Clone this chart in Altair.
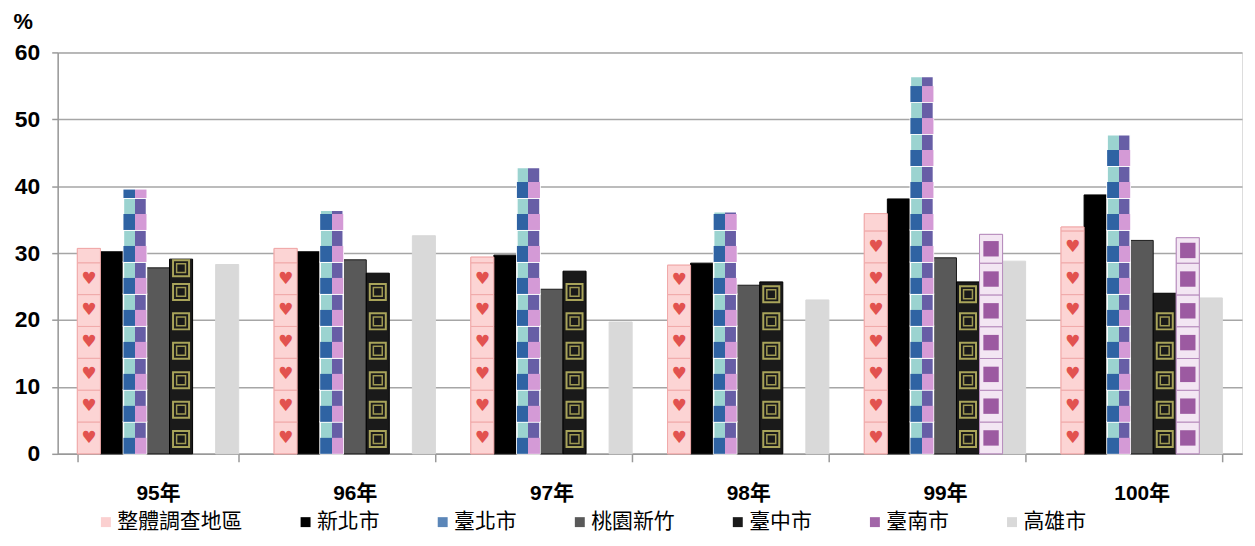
import altair as alt
import pandas as pd

years = ["95年", "96年", "97年", "98年", "99年", "100年"]
series = ["整體調查地區", "新北市", "臺北市", "桃園新竹", "臺中市", "臺南市", "高雄市"]
v_all = [30.7, 30.7, 29.4, 28.2, 35.9, 33.9]
v_ntpc = [30.2, 30.2, 29.7, 28.5, 38.1, 38.7]
v_tpe = [39.5, 36.4, 42.8, 36.2, 56.4, 47.7]
v_tyhc = [27.8, 29.0, 24.6, 25.2, 29.3, 31.9]
v_tch = [29.1, 27.0, 27.3, 25.7, 25.7, 24.0]
v_tn = [None, None, None, None, 32.8, 32.3]
v_khh = [28.3, 32.6, 19.7, 23.0, 28.8, 23.3]

fills = ["#fbd0d0", "#000000", "#5b86b8", "#595959", "#1a1a1a", "#a266a8", "#d9d9d9"]
strokes = ["#f2b0b0", "#000000", "#ffffff", "#1a1a1a", "#000000", "#c8a6cc", "#d9d9d9"]

rows = []
for s, vals in zip(series, [v_all, v_ntpc, v_tpe, v_tyhc, v_tch, v_tn, v_khh]):
    for y, v in zip(years, vals):
        if v is not None:
            rows.append({"year": y, "series": s, "value": v})
df = pd.DataFrame(rows)

x_enc = alt.X("year:N", sort=years, title=None,
              scale=alt.Scale(paddingInner=0.18, paddingOuter=0.1),
              axis=alt.Axis(labelAngle=0, tickBand="extent", tickSize=8, tickColor="#999999",
                            domainColor="#999999", domainWidth=1.5, tickWidth=1.5,
                            labelFont="Liberation Sans, Noto Sans CJK TC", labelFontWeight="bold",
                            labelFontSize=21, labelColor="#000000", labelPadding=21, grid=False))
xo_enc = alt.XOffset("series:N", sort=series,
                     scale=alt.Scale(domain=series, paddingInner=0, paddingOuter=0))
y_axis = alt.Axis(values=[0, 10, 20, 30, 40, 50, 60], grid=True, gridColor="#a6a6a6", gridWidth=1.5,
                  domainColor="#999999", domainWidth=1.5, tickColor="#999999", tickWidth=1.5, tickSize=6,
                  labelFont="Liberation Sans Narrow, Liberation Sans", labelFontWeight="bold", labelFontSize=23,
                  labelColor="#000000", labelPadding=12,
                  titleAngle=0, titleX=-45, titleY=-19, titleAlign="left", titleBaseline="bottom",
                  titleFont="Liberation Sans", titleFontSize=22, titleFontWeight="bold", titleColor="#000000")
y_scale = alt.Scale(domain=[0, 60], nice=False)

base = alt.Chart(df).mark_bar(strokeWidth=1).encode(
    x=x_enc, xOffset=xo_enc,
    y=alt.Y("value:Q", scale=y_scale, axis=y_axis, title="%"),
    color=alt.Color("series:N", sort=series, scale=alt.Scale(domain=series, range=fills),
                    legend=alt.Legend(title=None, orient="none", direction="horizontal",
                                      legendX=38, legendY=462, symbolType="square", symbolSize=100,
                                      symbolStrokeWidth=0, labelFont="Noto Sans CJK TC",
                                      labelFontSize=21, labelColor="#000000", labelOffset=1,
                                      columnPadding=53, padding=0)),
    stroke=alt.Stroke("series:N", sort=series, scale=alt.Scale(domain=series, range=strokes), legend=None),
)


def tiles(s, T):
    return (alt.Chart(df)
            .transform_filter(alt.datum.series == s)
            .transform_calculate(t=f"sequence(0, datum.value, {T})")
            .transform_flatten(["t"])
            .transform_calculate(t2=f"min(datum.t + {T}, datum.value)")
            .transform_calculate(th=f"min(datum.t + {T / 2}, datum.value)")
            .transform_calculate(tm="(datum.t + datum.t2) / 2")
            .transform_calculate(frac=f"(datum.t2 - datum.t) / {T}"))


def yq(field):
    return alt.Y(field, scale=y_scale, axis=y_axis, title="%")


def grad(c1, c2):
    return alt.Gradient(gradient="linear", x1=0, x2=1, y1=0, y2=0,
                        stops=[alt.GradientStop(color=c1, offset=0), alt.GradientStop(color=c1, offset=0.5),
                               alt.GradientStop(color=c2, offset=0.5), alt.GradientStop(color=c2, offset=1)])


# 整體調查地區: pink tiles with hearts
T1 = 4.76
heart_tiles = tiles(series[0], T1).mark_bar(fill="#fcd4d4", stroke="#f0a8a8", strokeWidth=1).encode(
    x=x_enc, xOffset=xo_enc, y=yq("t:Q"), y2="t2:Q")
hearts = tiles(series[0], T1).transform_filter("datum.frac > 0.55").mark_text(
    text="♥", color="#e2524f", fontSize=17, baseline="middle", font="DejaVu Sans").encode(
    x=x_enc, xOffset=xo_enc, y=yq("tm:Q"))

# 臺北市: checker tiles
T2 = 4.78
check_top = tiles(series[2], T2).mark_bar(color=grad("#9bd3d0", "#675ea6"), stroke="#ffffff",
                                          strokeWidth=1.5).encode(
    x=x_enc, xOffset=xo_enc, y=yq("t:Q"), y2="t2:Q")
check_bot = tiles(series[2], T2).mark_bar(color=grad("#2f63a3", "#d49ad6")).encode(
    x=x_enc, xOffset=xo_enc, y=yq("t:Q"), y2="th:Q")

# 臺中市: black with yellow spirals
T3 = 4.4
sp_out = tiles(series[4], T3).transform_filter("datum.frac > 0.55").mark_point(
    shape="square", filled=False, color="#e6df76", strokeWidth=2, size=260).encode(
    x=x_enc, xOffset=xo_enc, y=yq("tm:Q"))
sp_in = tiles(series[4], T3).transform_filter("datum.frac > 0.55").mark_point(
    shape="square", filled=False, color="#d8cf6a", strokeWidth=1.5, size=80).encode(
    x=x_enc, xOffset=xo_enc, y=yq("tm:Q"))

# 臺南市: white frames with purple squares
T4 = 4.75
tn_tiles = tiles(series[5], T4).mark_bar(fill="#f3e6f3", stroke="#b58abb", strokeWidth=1).encode(
    x=x_enc, xOffset=xo_enc, y=yq("t:Q"), y2="t2:Q")
tn_sq = tiles(series[5], T4).transform_filter("datum.frac > 0.55").mark_point(
    shape="square", filled=True, color="#9c5aa1", opacity=1, size=240).encode(
    x=x_enc, xOffset=xo_enc, y=yq("tm:Q"))

chart = alt.layer(base, heart_tiles, hearts, check_top, check_bot, sp_out, sp_in, tn_tiles, tn_sq).properties(
    width=1192, height=404,
    autosize=alt.AutoSizeParams(type="none"),
    padding={"left": 50, "top": 43, "right": 5, "bottom": 80},
).configure_view(stroke=None).configure(background="#ffffff")

chart.save("out.html", embed_options={"renderer": "svg", "actions": False})
